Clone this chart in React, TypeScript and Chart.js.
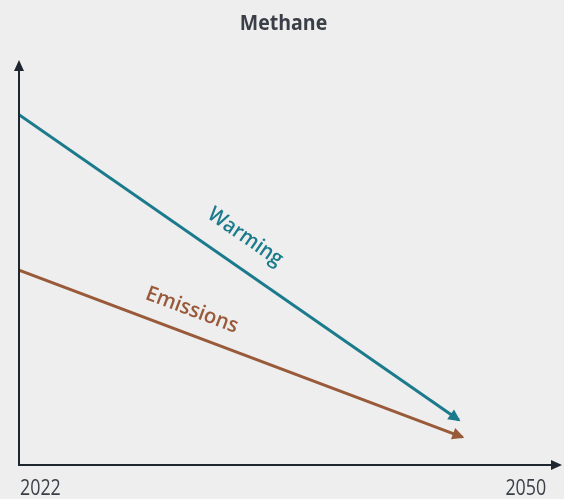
import React, { useEffect, useRef } from "react";
import { Chart, registerables } from "chart.js";

Chart.register(...registerables);

// Indexed trajectories (2022 = start, arbitrary units)
const years = [2022, 2046.3];
const warming = [86.5, 11.1];
const emissionsYears = [2022, 2046.5];
const emissions = [48.1, 6.9];
const tickYears = [2022, 2050];
const seriesNames = ["Warming", "Emissions"];
const chartTitle = "Methane";

const TEAL = "#1b7a8b";
const BROWN = "#995a3a";
const AXIS = "#1e2630";
const TEXT = "#3a3f47";
const BG = "#eeeeee";
const FONT = "'Open Sans', 'Noto Sans', sans-serif";

function drawArrowHead(ctx: CanvasRenderingContext2D, x0: number, y0: number, x1: number, y1: number, color: string, len: number, half: number, extend: number) {
  const a = Math.atan2(y1 - y0, x1 - x0);
  const tx = x1 + Math.cos(a) * extend;
  const ty = y1 + Math.sin(a) * extend;
  const bx = tx - Math.cos(a) * len;
  const by = ty - Math.sin(a) * len;
  ctx.beginPath();
  ctx.moveTo(tx, ty);
  ctx.lineTo(bx + Math.sin(a) * half, by - Math.cos(a) * half);
  ctx.lineTo(bx - Math.sin(a) * half, by + Math.cos(a) * half);
  ctx.closePath();
  ctx.fillStyle = color;
  ctx.fill();
}

// draws text horizontally condensed by sx around its anchor
function condensedText(ctx: CanvasRenderingContext2D, text: string, x: number, y: number, sx: number) {
  ctx.save();
  ctx.translate(x, y);
  ctx.scale(sx, 1);
  ctx.fillText(text, 0, 0);
  ctx.restore();
}

const decor = {
  id: "decor",
  beforeDraw(chart: any) {
    const { ctx, width, height } = chart;
    ctx.save();
    ctx.fillStyle = BG;
    ctx.fillRect(0, 0, width, height);
    ctx.restore();
  },
  afterDatasetsDraw(chart: any) {
    const { ctx, chartArea, scales } = chart;
    const xs = scales.x;
    const ys = scales.y;
    ctx.save();

    // axes with arrowheads
    ctx.strokeStyle = AXIS;
    ctx.lineWidth = 2;
    ctx.beginPath();
    ctx.moveTo(chartArea.left, chartArea.top + 8);
    ctx.lineTo(chartArea.left, chartArea.bottom);
    ctx.lineTo(chartArea.right - 8, chartArea.bottom);
    ctx.stroke();
    drawArrowHead(ctx, chartArea.left, chartArea.bottom, chartArea.left, chartArea.top, AXIS, 11, 5, 0);
    drawArrowHead(ctx, chartArea.left, chartArea.bottom, chartArea.right, chartArea.bottom, AXIS, 11, 5, 0);

    // series arrowheads
    chart.data.datasets.forEach((ds: any, i: number) => {
      const meta = chart.getDatasetMeta(i);
      const pts = meta.data;
      const p0 = pts[pts.length - 2];
      const p1 = pts[pts.length - 1];
      drawArrowHead(ctx, p0.x, p0.y, p1.x, p1.y, ds.borderColor, 12, 6, 2);
    });

    // series labels along their lines
    const labels = [
      { text: seriesNames[0], ds: 0, at: 2033.6, offset: 28.5, color: TEAL, sx: 0.94 },
      { text: seriesNames[1], ds: 1, at: 2031.1, offset: 23.4, color: BROWN, sx: 0.97 },
    ];
    ctx.font = `600 21px ${FONT}`;
    ctx.textAlign = "center";
    ctx.textBaseline = "middle";
    labels.forEach((l) => {
      const d = chart.data.datasets[l.ds].data;
      const a0 = d[0], a1 = d[d.length - 1];
      const x0 = xs.getPixelForValue(a0.x), y0 = ys.getPixelForValue(a0.y);
      const x1 = xs.getPixelForValue(a1.x), y1 = ys.getPixelForValue(a1.y);
      const ang = Math.atan2(y1 - y0, x1 - x0);
      const t = (l.at - a0.x) / (a1.x - a0.x);
      const px = x0 + (x1 - x0) * t + Math.sin(ang) * l.offset;
      const py = y0 + (y1 - y0) * t - Math.cos(ang) * l.offset;
      ctx.save();
      ctx.translate(px, py);
      ctx.rotate(ang);
      ctx.scale(l.sx, 1);
      ctx.fillStyle = l.color;
      ctx.fillText(l.text, 0, 0);
      ctx.restore();
    });

    // year ticks
    ctx.fillStyle = TEXT;
    ctx.font = `400 21px ${FONT}`;
    ctx.textBaseline = "alphabetic";
    ctx.textAlign = "left";
    condensedText(ctx, String(tickYears[0]), xs.getPixelForValue(tickYears[0]) + 1, chartArea.bottom + 30, 0.85);
    ctx.textAlign = "center";
    condensedText(ctx, String(tickYears[1]), xs.getPixelForValue(tickYears[1]), chartArea.bottom + 30, 0.85);

    // title
    ctx.font = `700 21px ${FONT}`;
    ctx.textAlign = "center";
    condensedText(ctx, chartTitle, 283.5, 30, 0.93);
    ctx.restore();
  },
};

export default function App() {
  const ref = useRef<HTMLCanvasElement>(null);
  useEffect(() => {
    document.body.style.margin = "0";
    document.body.style.background = BG;
    const chart = new Chart(ref.current!, {
      type: "line",
      data: {
        datasets: [
          {
            label: seriesNames[0],
            data: years.map((x, i) => ({ x, y: warming[i] })),
            borderColor: TEAL,
            borderWidth: 3,
            pointRadius: 0,
          },
          {
            label: seriesNames[1],
            data: emissionsYears.map((x, i) => ({ x, y: emissions[i] })),
            borderColor: BROWN,
            borderWidth: 3,
            pointRadius: 0,
          },
        ],
      },
      options: {
        animation: false,
        responsive: false,
        layout: { padding: { left: 19, right: 2, top: 60, bottom: 34 } },
        plugins: { legend: { display: false }, title: { display: false }, tooltip: { enabled: false } },
        scales: {
          x: { type: "linear", min: 2022, max: 2052, display: false },
          y: { type: "linear", min: 0, max: 100, display: false },
        },
      },
      plugins: [decor],
    });
    return () => chart.destroy();
  }, []);
  return (
    <div style={{ width: 564, height: 499, background: BG }}>
      <canvas ref={ref} width={564} height={499} />
    </div>
  );
}
